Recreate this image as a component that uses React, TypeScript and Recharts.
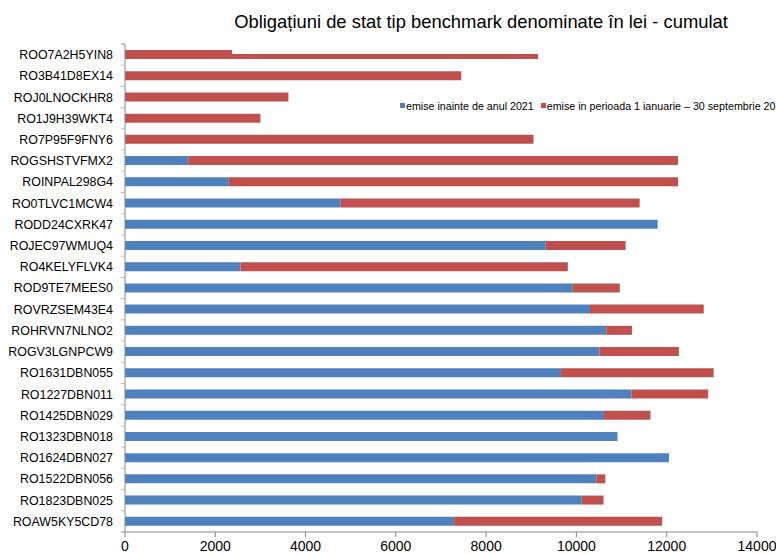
import React from 'react';
import { BarChart, Bar, XAxis, YAxis, Legend } from 'recharts';

const categories = [
  'ROO7A2H5YIN8', 'RO3B41D8EX14', 'ROJ0LNOCKHR8', 'RO1J9H39WKT4', 'RO7P95F9FNY6',
  'ROGSHSTVFMX2', 'ROINPAL298G4', 'RO0TLVC1MCW4', 'RODD24CXRK47', 'ROJEC97WMUQ4',
  'RO4KELYFLVK4', 'ROD9TE7MEES0', 'ROVRZSEM43E4', 'ROHRVN7NLNO2', 'ROGV3LGNPCW9',
  'RO1631DBN055', 'RO1227DBN011', 'RO1425DBN029', 'RO1323DBN018', 'RO1624DBN027',
  'RO1522DBN056', 'RO1823DBN025', 'ROAW5KY5CD78',
];
const before2021 = [
  0, 0, 0, 0, 0,
  1400, 2300, 4780, 11800, 9320,
  2560, 9920, 10300, 10660, 10510,
  9660, 11220, 10610, 10910, 12050,
  10440, 10120, 7290,
];
const in2021 = [
  9150, 7450, 3620, 3000, 9050,
  10850, 9950, 6620, 0, 1770,
  7250, 1040, 2520, 570, 1760,
  3380, 1700, 1030, 0, 0,
  200, 480, 4610,
];
const xTicks = [0, 2000, 4000, 6000, 8000, 10000, 12000, 14000];
const seriesNames = ['emise inainte de anul 2021', 'emise in perioada 1 ianuarie \u2013 30 septembrie 2021'];
const titleText = 'Obligațiuni de stat tip benchmark denominate în lei - cumulat';

const data = categories.map((c, i) => ({ name: c, a: before2021[i], b: in2021[i] }));

const FONT = '"Liberation Sans", Arial, Helvetica, sans-serif';
const AXIS = '#868686';

const YTick = (props: any) => {
  const { x, y, payload, index, visibleTicksCount } = props;
  const half = payload && typeof payload.offset === 'number' && payload.offset > 0 ? payload.offset : 10.6;
  const last = index === (visibleTicksCount ?? categories.length) - 1;
  return (
    <g>
      <text x={x} y={y} dy="0.36em" textAnchor="end" fontSize={12.4} fill="#000" fontFamily={FONT}>
        {payload.value}
      </text>
      {index === 0 && <line x1={x + 8} x2={x + 12} y1={y - half} y2={y - half} stroke={AXIS} />}
      <line x1={x + 8} x2={x + 12} y1={y + half} y2={y + half} stroke={last ? AXIS : '#bbb'} />
    </g>
  );
};

const renderLegend = (props: any) => {
  const items = [...(props.payload || [])].sort(
    (p: any, q: any) => seriesNames.indexOf(p.value) - seriesNames.indexOf(q.value)
  );
  return (
    <div style={{ whiteSpace: 'nowrap', fontSize: 10.7, fontFamily: FONT, color: '#000', lineHeight: '14px' }}>
      {items.map((p: any, i: number) => (
        <span key={i} style={{ marginRight: 7, display: 'inline-flex', alignItems: 'center' }}>
          <span style={{ display: 'inline-block', width: 5, height: 5, background: p.color, marginRight: 1 }} />
          {p.value}
        </span>
      ))}
    </div>
  );
};

export default function App() {
  return (
    <div
      style={{
        position: 'absolute', left: 0, top: 0, width: 776, height: 555,
        overflow: 'hidden', background: '#fff', fontFamily: FONT,
      }}
    >
      <BarChart
        width={776}
        height={555}
        data={data}
        layout="vertical"
        margin={{ top: 44, right: 19, bottom: 3, left: 0 }}
      >
        <XAxis
          type="number"
          domain={[0, 14000]}
          ticks={xTicks}
          interval={0}
          height={20}
          tickSize={5}
          tickMargin={4}
          axisLine={{ stroke: AXIS }}
          tickLine={{ stroke: AXIS }}
          tick={{ fontSize: 14, fill: '#000', fontFamily: FONT }}
        />
        <YAxis
          type="category"
          dataKey="name"
          width={125}
          interval={0}
          tickSize={0}
          tickMargin={12}
          tickLine={false}
          axisLine={{ stroke: AXIS }}
          tick={<YTick />}
        />
        <Legend
          layout="horizontal"
          verticalAlign="middle"
          align="center"
          content={renderLegend}
          wrapperStyle={{ position: 'absolute', left: 400, top: 97, width: 'auto', height: 'auto' }}
        />
        <Bar dataKey="a" name={seriesNames[0]} stackId="s" fill="#4F81BD" barSize={9} isAnimationActive={false} />
        <Bar dataKey="b" name={seriesNames[1]} stackId="s" fill="#C0504D" barSize={9} isAnimationActive={false} />
      </BarChart>
      <div
        style={{
          position: 'absolute', left: 232, top: 0, width: 498, height: 54,
          background: '#fff', zIndex: 5,
        }}
      >
        <svg width={498} height={54}>
          <text x={249} y={28} textAnchor="middle" fontSize={18.4} fill="#000" fontFamily={FONT}>
            {titleText}
          </text>
        </svg>
      </div>
    </div>
  );
}
